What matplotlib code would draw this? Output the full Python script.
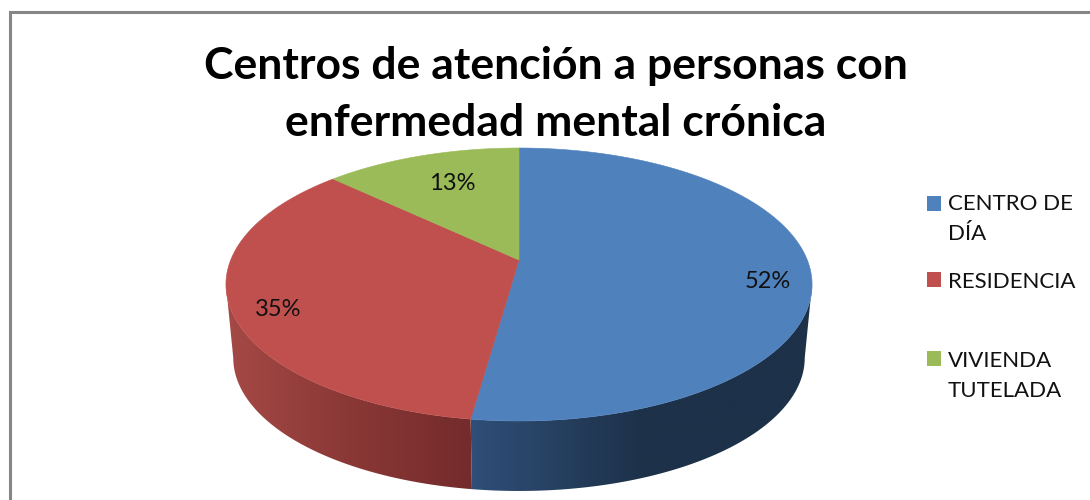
#!/usr/bin/env python3
"""Perspective 3D-look pie: Centros de atencion a personas con enfermedad mental cronica."""

import numpy as np
import matplotlib
matplotlib.use("Agg")
import matplotlib.pyplot as plt
from matplotlib.colors import LinearSegmentedColormap
from matplotlib.patches import Polygon, Rectangle

title_lines = ["Centros de atención a personas con", "enfermedad mental crónica"]
categories = ["CENTRO DE\nDÍA", "RESIDENCIA", "VIVIENDA\nTUTELADA"]
values = [52.2, 34.9, 12.9]  # slice sizes, labels show them rounded

colors = ["#4f81bd", "#c0504d", "#9bbb59"]
wall_colors = [["#2f4f78", "#1d3149", "#1d3149"], ["#a54946", "#8a3836", "#732b2b"], None]

# pixel layout of the pie (the axes work in image pixels)
CX, CY = 519, 260
SCALE_X, SCALE_Y, TILT = 288.3, 132.1, 0.1795
WALL_SHRINK, WALL_CY = 0.975, 334

plt.rcParams["font.family"] = ["Lato", "DejaVu Sans"]


def rim(angles, shrink=1.0, cy=CY):
    """Project clockwise-from-top angles (degrees) on to the tilted disc."""
    t = np.radians(angles)
    u, v = np.sin(t), np.cos(t)
    w = 1 + TILT * v
    return np.column_stack([CX + shrink * SCALE_X * u / w, cy - shrink * SCALE_Y * v / w])


fig = plt.figure(figsize=(10.9, 5), dpi=100)
ax = fig.add_axes([0, 0, 1, 1])
ax.set_xlim(0, 1090)
ax.set_ylim(500, 0)
ax.axis("off")

# frame of the chart area: only its left and top sides fall inside the picture
ax.plot([9.5, 9.5, 1090], [500, 11.5, 11.5], color="#868686", linewidth=2.2,
        solid_joinstyle="miter", solid_capstyle="butt")

edges = 360 * np.cumsum([0] + values) / sum(values)
silhouette = np.degrees(np.arccos(-TILT))

# side walls, only the front part of the disc shows
for i, wall in enumerate(wall_colors):
    if wall is None:
        continue
    lo = max(edges[i], silhouette)
    hi = min(edges[i + 1], 360 - silhouette)
    a = np.linspace(lo, hi, 120)
    pts = np.vstack([rim(a), rim(a[::-1], WALL_SHRINK, WALL_CY)])
    poly = Polygon(pts, closed=True, facecolor="none", edgecolor="none")
    ax.add_patch(poly)
    x0, x1 = pts[:, 0].min(), pts[:, 0].max()
    cmap = LinearSegmentedColormap.from_list("wall", wall)
    img = ax.imshow(np.linspace(0, 1, 256).reshape(1, -1), cmap=cmap, aspect="auto",
                    extent=(x0, x1, 500, 0), zorder=2)
    img.set_clip_path(poly)
ax.set_xlim(0, 1090)
ax.set_ylim(500, 0)

# top face
for i, color in enumerate(colors):
    a = np.linspace(edges[i], edges[i + 1], 200)
    pts = np.vstack([[CX, CY], rim(a)])
    ax.add_patch(Polygon(pts, closed=True, facecolor=color, edgecolor=color,
                         linewidth=0.4, zorder=3))

# data labels
label_xy = [(768, 282), (278, 310), (452, 183)]
for v, (x, y) in zip(values, label_xy):
    ax.text(x, y, f"{v:.0f}%", ha="center", va="center", fontsize=17, color="#111111", zorder=4)

# title
for line, y in zip(title_lines, [66, 123]):
    ax.text(556, y, line, ha="center", va="center", fontsize=32, fontweight="bold", color="black")

# legend
swatch_y = [196, 272, 351]
text_y = [219, 282, 376]
for name, color, sy, ty in zip(categories, colors, swatch_y, text_y):
    ax.add_patch(Rectangle((927, sy), 14, 15, facecolor=color, edgecolor="none"))
    ax.text(948, ty, name, ha="left", va="center", fontsize=16, color="#111111", linespacing=1.58)

fig.savefig("out.png", dpi=100)
